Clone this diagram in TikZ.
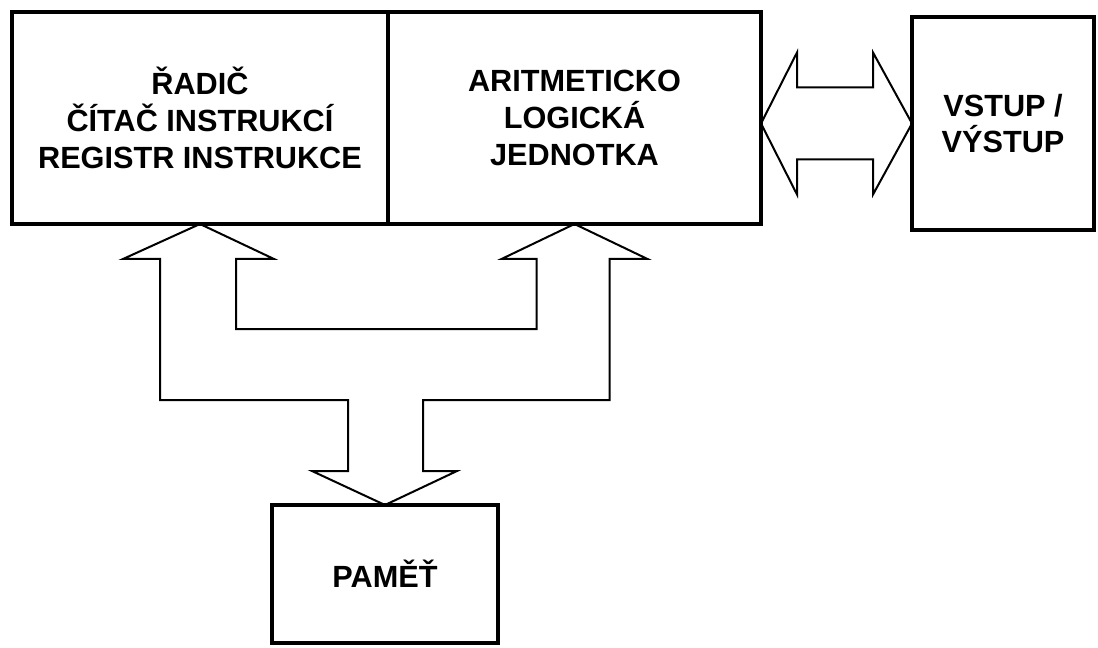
\documentclass[tikz,border=0pt]{standalone}
\usepackage{fontspec}
\setmainfont{Liberation Sans}
\usepackage{tikz}
\usetikzlibrary{calc}

\tikzset{
    unit/.style={draw, line width=3.2pt, align=center, inner sep=0pt, outer sep=0pt,
        font=\fontsize{23}{27.5}\selectfont\bfseries},
    bus/.style={draw, line width=1.5pt, line join=miter}
}

\begin{document}
\begin{tikzpicture}[x=0.75pt,y=-0.75pt]
    \useasboundingbox (0,0) rectangle (1098,648);
    \node[unit, minimum width=282pt, minimum height=159pt] (radic) at (200,118)
        {ŘADIČ\\ČÍTAČ INSTRUKCÍ\\REGISTR INSTRUKCE};
    \node[unit, minimum width=279.75pt, minimum height=159pt] (alu) at (574.5,118)
        {ARITMETICKO\\LOGICKÁ\\JEDNOTKA};
    \node[unit, minimum width=136.5pt, minimum height=159.75pt] (io) at (1003,123.5)
        {VSTUP /\\VÝSTUP};
    \node[unit, minimum width=169.5pt, minimum height=103.5pt] (pamet) at (385,574)
        {PAMĚŤ};
    \draw[bus] (alu.east |- io.west) -- ++(36,-71) -- ++(0,35) -- ++(76,0) -- ++(0,-35)
        -- (io.west) -- ++(-39,71) -- ++(0,-35) -- ++(-76,0) -- ++(0,35) -- cycle;
    \draw[bus] (radic.south) -- ++(74,35) -- ++(-38,0) -- ++(0,70)
        -- ($(alu.south)+(-38,105)$) -- ++(0,-70) -- ++(-35,0)
        -- (alu.south) -- ++(73,35) -- ++(-38,0) -- ++(0,141)
        -- ($(pamet.north)+(38,-105)$) -- ++(0,71) -- ++(34,0)
        -- (pamet.north) -- ++(-73,-34) -- ++(36,0) -- ++(0,-71)
        -- ($(radic.south)+(-40,176)$) -- ++(0,-141) -- ++(-37,0) -- cycle;
\end{tikzpicture}
\end{document}
